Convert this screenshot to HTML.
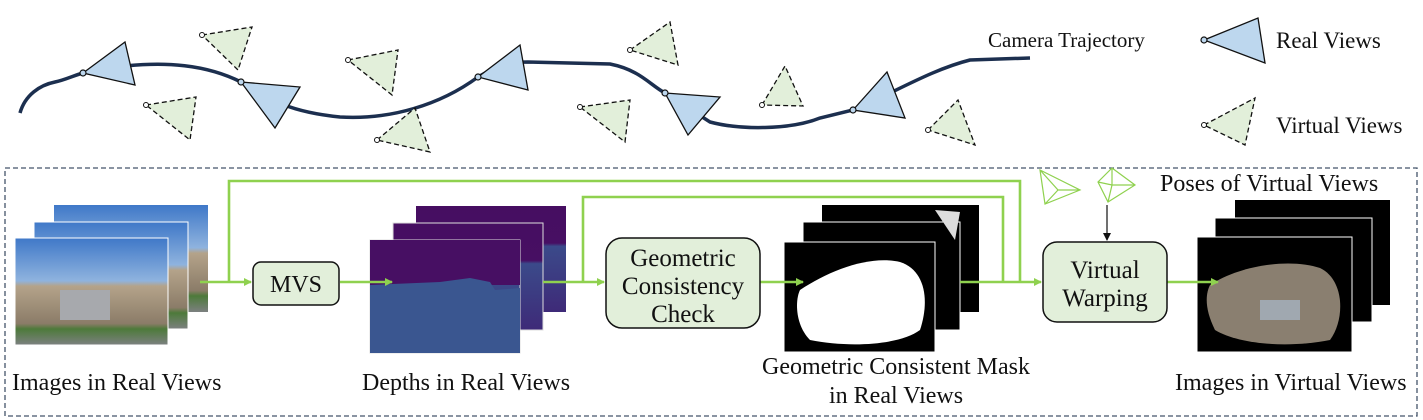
<!DOCTYPE html>
<html><head><meta charset="utf-8"><style>
html,body{margin:0;padding:0;background:#fff}
svg{display:block}
text{font-family:"Liberation Serif",serif;fill:#111}
</style></head><body>
<svg width="1423" height="420" viewBox="0 0 1423 420" xmlns="http://www.w3.org/2000/svg">
<defs>
<marker id="ga" markerWidth="8" markerHeight="8" refX="7" refY="4" orient="auto" markerUnits="userSpaceOnUse"><path d="M0,0 L8,4 L0,8z" fill="#8fd14f"/></marker>
<marker id="ka" markerWidth="8" markerHeight="8" refX="7" refY="4" orient="auto" markerUnits="userSpaceOnUse"><path d="M0,0 L8,4 L0,8z" fill="#111"/></marker>
<linearGradient id="photo" x1="0" y1="0" x2="0" y2="1"><stop offset="0" stop-color="#3f78c8"/><stop offset="0.4" stop-color="#8fb3de"/><stop offset="0.45" stop-color="#b4a38a"/><stop offset="0.8" stop-color="#8b7c68"/><stop offset="0.85" stop-color="#4d7a3a"/><stop offset="1" stop-color="#7d8080"/></linearGradient>
<linearGradient id="depth" x1="0" y1="0" x2="0" y2="1"><stop offset="0" stop-color="#460e61"/><stop offset="0.35" stop-color="#470f63"/><stop offset="0.38" stop-color="#3b4a8a"/><stop offset="1" stop-color="#3e2a78"/></linearGradient>
</defs>

<path d="M20,113 C25,95 40,85 55,82 C65,80 75,75 83,73 L125,66 C165,62 205,64 241,82 C270,100 290,112 340,117 C390,120 440,105 478,77 C500,64 510,62 528,62 L610,64 C640,70 650,85 665,93 L710,122 C740,130 790,130 820,118 L853,110 C890,95 930,70 970,60 L1030,58" fill="none" stroke="#1c2f4f" stroke-width="3.5"/>
<text x="988" y="47" font-size="21">Camera Trajectory</text>

<g fill="#bdd7ee" stroke="#111" stroke-width="1.3">
<polygon points="83,73 125,42 135,85"/>
<polygon points="241,82 300,87 275,128"/>
<polygon points="478,77 520,45 528,90"/>
<polygon points="665,93 720,97 688,135"/>
<polygon points="853,110 887,72 905,118"/>
<polygon points="1204,40 1258,18 1265,63"/>
</g>
<g fill="#bdd7ee" stroke="#111" stroke-width="1.2">
<circle cx="83" cy="73" r="3"/><circle cx="241" cy="82" r="3"/><circle cx="478" cy="77" r="3"/><circle cx="665" cy="93" r="3"/><circle cx="853" cy="110" r="3"/><circle cx="1204" cy="40" r="3"/>
</g>
<text x="1276" y="48" font-size="23">Real Views</text>

<g fill="#e2efda" stroke="#111" stroke-width="1.3" stroke-dasharray="5,3">
<polygon points="202,35 252,27 238,70"/>
<polygon points="146,105 196,97 190,140"/>
<polygon points="348,60 398,50 392,95"/>
<polygon points="377,140 415,108 430,152"/>
<polygon points="630,50 670,22 678,65"/>
<polygon points="580,107 630,100 625,142"/>
<polygon points="762,105 785,66 803,106"/>
<polygon points="928,130 958,100 975,145"/>
<polygon points="1204,125 1255,98 1245,145"/>
</g>
<g fill="#fff" stroke="#111" stroke-width="1">
<circle cx="202" cy="35" r="2.5"/><circle cx="146" cy="105" r="2.5"/><circle cx="348" cy="60" r="2.5"/><circle cx="377" cy="140" r="2.5"/><circle cx="630" cy="50" r="2.5"/><circle cx="580" cy="107" r="2.5"/><circle cx="762" cy="105" r="2.5"/><circle cx="928" cy="130" r="2.5"/><circle cx="1204" cy="125" r="2.5"/>
</g>
<text x="1276" y="133" font-size="23">Virtual Views</text>

<rect x="5" y="168" width="1412" height="248" fill="none" stroke="#44546a" stroke-width="1.3" stroke-dasharray="5,3"/>

<rect x="54" y="205" width="154" height="107" fill="url(#photo)"/>
<rect x="34" y="222" width="154" height="107" fill="url(#photo)" stroke="#fff" stroke-width="1"/>
<rect x="15" y="238" width="153" height="107" fill="url(#photo)" stroke="#fff" stroke-width="1"/>
<rect x="60" y="290" width="50" height="30" fill="#a7a9ad"/>

<rect x="416" y="206" width="150" height="106" fill="url(#depth)"/>
<rect x="393" y="223" width="150" height="107" fill="url(#depth)" stroke="#ddd" stroke-width="1"/>
<rect x="370" y="240" width="150" height="113" fill="url(#depth)" stroke="#ddd" stroke-width="1"/>
<rect x="370" y="240" width="150" height="45" fill="#470f63"/>
<path d="M370,285 L440,282 L470,278 L490,282 L495,290 L520,288 L520,353 L370,353z" fill="#3a5690"/>

<rect x="822" y="205" width="157" height="107" fill="#000"/>
<rect x="803" y="222" width="157" height="108" fill="#000" stroke="#fff" stroke-width="1"/>
<rect x="784" y="242" width="151" height="110" fill="#000" stroke="#fff" stroke-width="1"/>
<path d="M800,290 C830,270 870,255 900,262 C925,270 930,300 920,330 C900,345 850,348 810,340 C795,325 795,300 800,290z" fill="#fff"/>
<path d="M935,210 L960,212 L955,240 Z" fill="#ddd"/>

<rect x="1235" y="200" width="155" height="105" fill="#000"/>
<rect x="1215" y="218" width="157" height="104" fill="#000" stroke="#fff" stroke-width="1"/>
<rect x="1197" y="237" width="155" height="115" fill="#000" stroke="#fff" stroke-width="1"/>
<path d="M1210,285 C1240,265 1290,258 1320,268 C1345,280 1345,320 1330,340 C1290,348 1240,345 1215,330 C1205,310 1205,295 1210,285z" fill="#8a7f70"/>
<rect x="1260" y="300" width="40" height="20" fill="#a0a8b0"/>

<g fill="none" stroke="#8fd14f" stroke-width="2.6">
<path d="M229,282 L229,181 L1020,181 L1020,282"/>
<path d="M583,282 L583,197 L1003,197 L1003,282"/>
<line x1="200" y1="282" x2="251" y2="282" marker-end="url(#ga)"/>
<line x1="340" y1="282" x2="392" y2="282" marker-end="url(#ga)"/>
<line x1="543" y1="282" x2="604" y2="282" marker-end="url(#ga)"/>
<line x1="760" y1="282" x2="803" y2="282" marker-end="url(#ga)"/>
<line x1="960" y1="282" x2="1041" y2="282" marker-end="url(#ga)"/>
<line x1="1167" y1="282" x2="1218" y2="282" marker-end="url(#ga)"/>
</g>

<g fill="#e2efda" stroke="#111" stroke-width="1.5">
<rect x="253" y="262" width="86" height="43" rx="8"/>
<rect x="606" y="238" width="154" height="90" rx="16"/>
<rect x="1043" y="242" width="124" height="80" rx="14"/>
</g>
<text x="296" y="292" font-size="24" text-anchor="middle">MVS</text>
<g font-size="25" text-anchor="middle">
<text x="683" y="266">Geometric</text>
<text x="683" y="294">Consistency</text>
<text x="683" y="322">Check</text>
<text x="1105" y="278">Virtual</text>
<text x="1105" y="306">Warping</text>
</g>

<g fill="none" stroke="#8fd14f" stroke-width="1.2">
<path d="M1040,170 L1080,190 L1045,204 Z M1040,170 L1058,190 L1045,204 M1058,190 L1080,190"/>
<path d="M1112,168 L1135,185 L1108,202 L1098,182 Z M1112,168 L1112,185 L1108,202 M1098,182 L1112,185 L1135,185"/>
</g>
<line x1="1107" y1="205" x2="1107" y2="240" stroke="#111" stroke-width="1.2" marker-end="url(#ka)"/>
<text x="1160" y="191" font-size="24">Poses of Virtual Views</text>

<g font-size="24">
<text x="12" y="390">Images in Real Views</text>
<text x="362" y="390">Depths in Real Views</text>
<text x="762" y="374">Geometric Consistent Mask</text>
<text x="829" y="403">in Real Views</text>
<text x="1175" y="390">Images in Virtual Views</text>
</g>
</svg>
</body></html>
